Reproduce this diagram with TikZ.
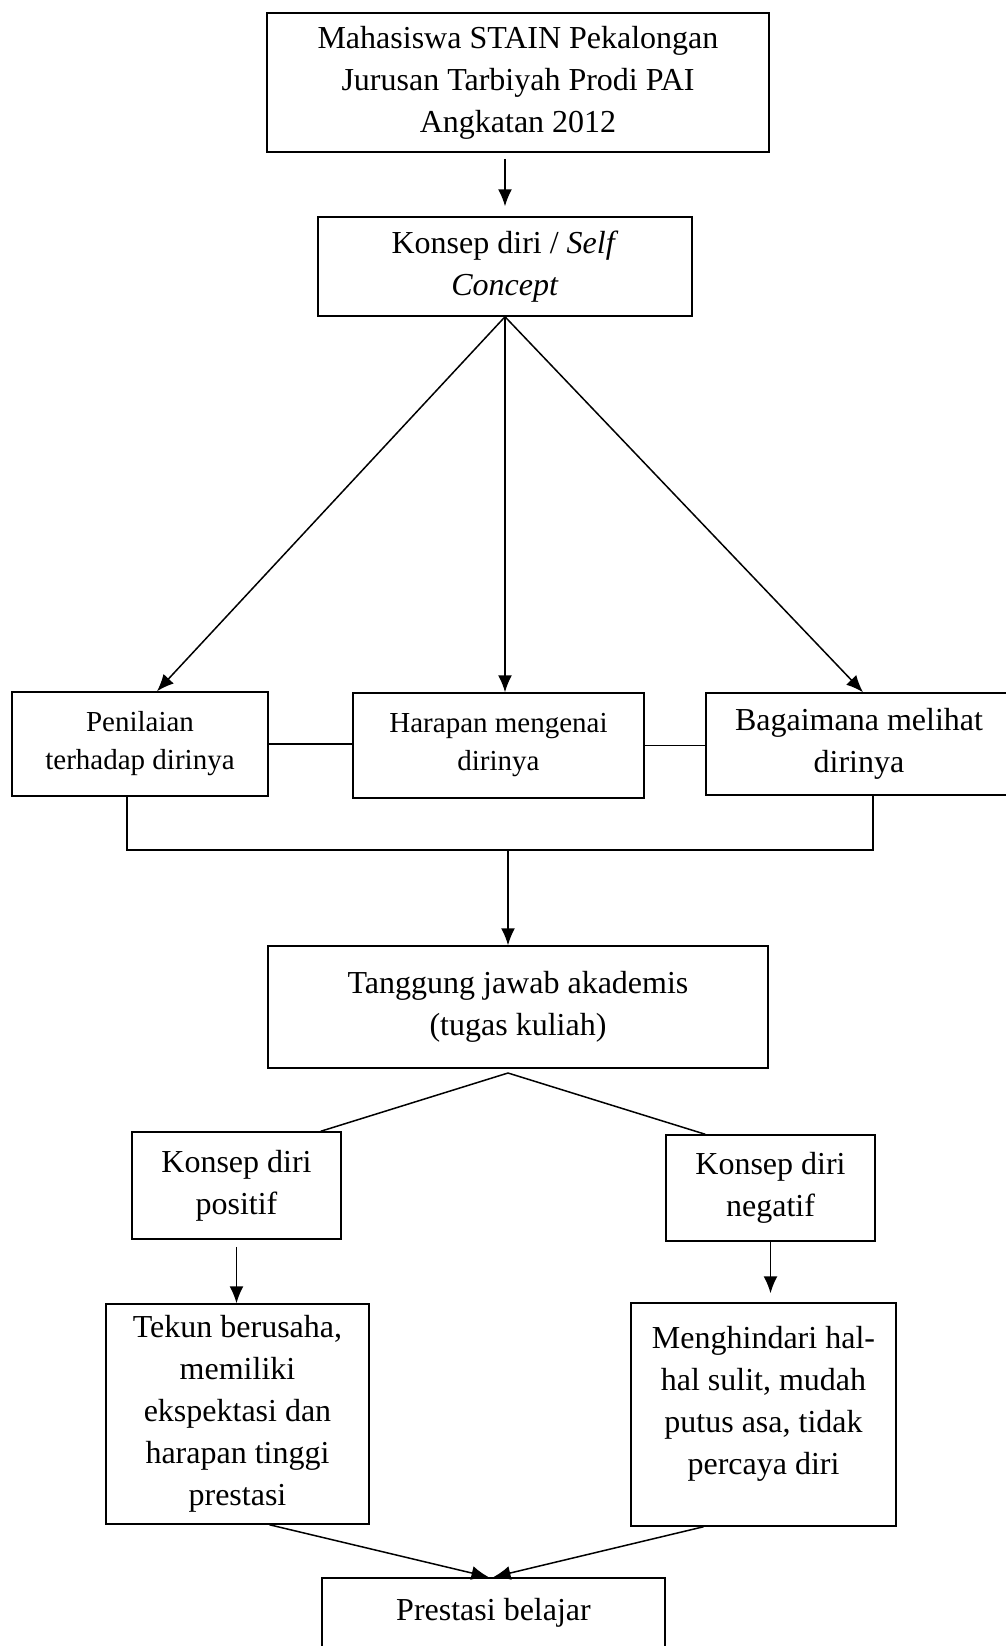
\documentclass[tikz,border=0pt]{standalone}
\usepackage{fontspec}
\setmainfont{Liberation Serif}
\usetikzlibrary{arrows.meta,positioning,calc}

\begin{document}
\begin{tikzpicture}[
        x=1pt, y=-1pt,
        box/.style={rectangle, draw, line width=1.5pt, align=center, inner sep=4pt, font=\fontsize{32}{42}\selectfont},
        smallbox/.style={box, font=\fontsize{29}{38}\selectfont},
        arrow/.style={-{Latex[length=17pt, width=14pt]}, line width=1.5pt},
        link/.style={line width=1.5pt}
    ]
        \useasboundingbox (0,0) rectangle (1005,1646);

        % Subjek penelitian
        \node[box, minimum width=502, minimum height=139] (mahasiswa) at (518,82.5) {Mahasiswa STAIN Pekalongan\\ Jurusan Tarbiyah Prodi PAI\\ Angkatan 2012};

        % Konsep diri
        \node[box, minimum width=374, minimum height=99] (konsep) at (505,266.5) {Konsep diri / \textit{Self}\\ \textit{Concept}};
        \draw[arrow, shorten <=6pt, shorten >=10pt] (mahasiswa.south -| konsep.north) -- (konsep.north);

        % Aspek konsep diri
        \node[smallbox, minimum width=256, minimum height=104] (penilaian) at (140,744) {Penilaian\\ terhadap dirinya};
        \node[smallbox, minimum width=291, minimum height=105] (harapan) at (498.5,745.5) {Harapan mengenai\\ dirinya};
        \node[box, minimum width=306, minimum height=102] (melihat) at (859,744) {Bagaimana melihat\\ dirinya};
        \draw[arrow] (konsep.south) -- ([xshift=17pt]penilaian.north);
        \draw[arrow] (konsep.south) -- (konsep.south |- harapan.north);
        \draw[arrow] (konsep.south) -- ([xshift=4pt]melihat.north);
        \draw[link] (penilaian.east) -- (penilaian.east -| harapan.west);
        \draw[link] (harapan.east) -- (harapan.east -| melihat.west);

        % Tanggung jawab
        \coordinate (gabung) at (508,850);
        \node[box, minimum width=500, minimum height=122] (tanggung) at (518,1007) {Tanggung jawab akademis\\ (tugas kuliah)};
        \draw[link] ([xshift=-13pt]penilaian.south) |- (gabung) -| ([xshift=14pt]melihat.south);
        \draw[arrow] (gabung) -- (gabung |- tanggung.north);

        % Konsep diri positif / negatif
        \coordinate (cabang) at (508,1073);
        \node[box, minimum width=209, minimum height=107] (positif) at (236.5,1185.5) {Konsep diri\\ positif};
        \node[box, minimum width=209, minimum height=106] (negatif) at (770.5,1188) {Konsep diri\\ negatif};
        \draw[link] (cabang) -- ([xshift=-21pt]positif.north east);
        \draw[link] (cabang) -- ([xshift=40pt]negatif.north west);

        % Dampak
        \node[box, minimum width=263, minimum height=220] (tekun) at (237.5,1414) {Tekun berusaha,\\ memiliki\\ ekspektasi dan\\ harapan tinggi\\ prestasi};
        \node[box, minimum width=265, minimum height=223] (menghindari) at (763.5,1414.5) {Menghindari hal-\\ hal sulit, mudah\\ putus asa, tidak\\ percaya diri\\[-14pt] \mbox{}};
        \draw[arrow, shorten <=7pt] (positif.south) -- (positif.south |- tekun.north);
        \draw[arrow, shorten >=9pt] (negatif.south) -- (negatif.south |- menghindari.north);

        % Prestasi belajar
        \node[box, anchor=north, minimum width=343, text height=35pt, text depth=60pt, inner ysep=8pt] (prestasi) at (493.5,1577) {Prestasi belajar};
        \draw[arrow] ([xshift=32pt]tekun.south) -- ([xshift=-5pt]prestasi.north);
        \draw[arrow] ([xshift=-60pt]menghindari.south) -- (prestasi.north);

    \end{tikzpicture}
\end{document}
